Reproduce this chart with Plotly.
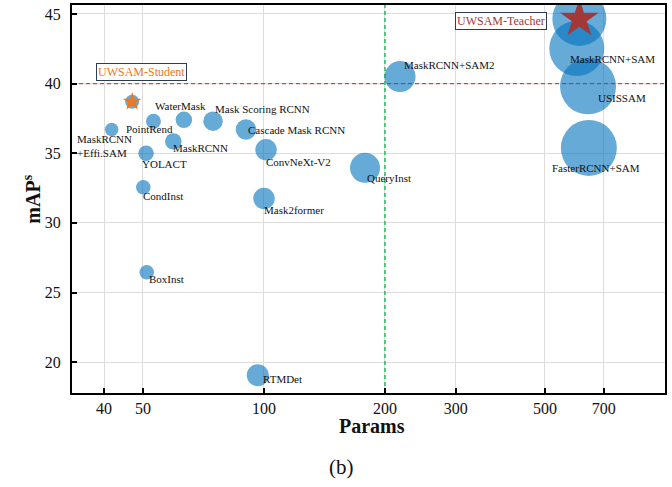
import numpy as np
import plotly.graph_objects as go

# ---- data ----
models = ["UWSAM-Student", "MaskRCNN<br>+Effi.SAM", "PointRend", "WaterMask", "Mask Scoring RCNN",
          "Cascade Mask RCNN", "MaskRCNN", "YOLACT", "CondInst", "ConvNeXt-V2", "Mask2former",
          "QueryInst", "BoxInst", "RTMDet", "MaskRCNN+SAM2", "UWSAM-Teacher", "MaskRCNN+SAM",
          "USISSAM", "FasterRCNN+SAM"]
params = [47, 41.8, 53.1, 63.2, 74.7, 90.2, 59.5, 50.9, 50.1, 101.2, 100, 178.4, 51.1, 96.5,
          218, 609, 600, 640, 643]
map_s = [38.7, 36.7, 37.3, 37.4, 37.3, 36.7, 35.85, 35.0, 32.55, 35.25, 31.75, 33.95, 26.45, 19.07,
         40.5, 44.64, 42.52, 39.8, 35.38]
bubble = [14, 13.5, 15, 16.5, 19.5, 20.5, 16.5, 15.5, 14.5, 21.5, 21.5, 30, 14.5, 22,
          31, 54, 55, 56, 56]
x_ticks = [40, 50, 100, 200, 300, 500, 700]
y_ticks = [20, 25, 30, 35, 40, 45]
x_range = [33.3, 994.6]
y_range = [17.79, 45.64]
ref_map = 40
ref_params = 200

# label offsets in pixels (dx, dy down-positive) – style only
label_off = {
    "MaskRCNN<br>+Effi.SAM": (-36, 16),
    "PointRend": (-28, 8),
    "WaterMask": (-30, -14),
    "Mask Scoring RCNN": (1, -12),
    "Cascade Mask RCNN": (1, 0),
    "MaskRCNN": (-1, 7),
    "YOLACT": (-5, 11),
    "CondInst": (-1, 9),
    "ConvNeXt-V2": (-1, 12),
    "Mask2former": (-1, 11),
    "QueryInst": (1, 10),
    "BoxInst": (1, 7),
    "RTMDet": (4, 4),
    "MaskRCNN+SAM2": (3, -12),
    "MaskRCNN+SAM": (-8, 11),
    "USISSAM": (9, 12),
    "FasterRCNN+SAM": (-38, 20),
}

FONT = "Liberation Serif"
fig = go.Figure()

# reference lines (drawn under the bubbles)
fig.add_trace(go.Scatter(
    x=x_range, y=[ref_map, ref_map], mode="lines",
    line=dict(color="#C84A4A", width=1.3, dash="4px,3px"),
    hoverinfo="skip", showlegend=False))
fig.add_trace(go.Scatter(
    x=[ref_params, ref_params], y=y_range, mode="lines",
    line=dict(color="#11BB55", width=1.4, dash="4px,3px"),
    hoverinfo="skip", showlegend=False))

fig.add_trace(go.Scatter(
    x=params, y=map_s, mode="markers",
    marker=dict(size=bubble, sizemode="diameter", color="#0072BD", opacity=0.6,
                line=dict(width=0)),
    hoverinfo="text", text=models, showlegend=False))

# stars
fig.add_trace(go.Scatter(
    x=[params[0]], y=[map_s[0]], mode="markers",
    marker=dict(symbol="star", size=14, color="#EE7722", line=dict(width=0)),
    showlegend=False))
fig.add_trace(go.Scatter(
    x=[params[15]], y=[map_s[15]], mode="markers",
    marker=dict(symbol="star", size=29, color="#A33838", line=dict(width=0)),
    showlegend=False))

annotations = []
for m, xv, yv in zip(models, params, map_s):
    if m in label_off:
        dx, dy = label_off[m]
        annotations.append(dict(
            x=np.log10(xv), y=yv, xref="x", yref="y", text=m, showarrow=False,
            xanchor="left", yanchor="middle", align="left", xshift=dx, yshift=-dy,
            font=dict(family=FONT, size=11, color="#111"), borderpad=0))

annotations.append(dict(
    x=np.log10(params[0]), y=map_s[0], xref="x", yref="y", text="UWSAM-Student",
    showarrow=False, xanchor="center", yanchor="middle", xshift=9, yshift=30,
    font=dict(family=FONT, size=12, color="#EE7722"),
    bordercolor="#2E3B55", borderwidth=1, borderpad=1, bgcolor="white"))
annotations.append(dict(
    x=np.log10(params[15]), y=map_s[15], xref="x", yref="y", text="UWSAM-Teacher",
    showarrow=False, xanchor="center", yanchor="middle", xshift=-78, yshift=-2,
    font=dict(family=FONT, size=12, color="#A33838"),
    bordercolor="#2E3B55", borderwidth=1, borderpad=1, bgcolor="white"))

annotations.append(dict(
    x=-0.068, y=0.5, xref="paper", yref="paper", text="<b>mAP<sup>s</sup></b>",
    textangle=-90, showarrow=False, xanchor="center", yanchor="middle",
    font=dict(family=FONT, size=20, color="#111")))
annotations.append(dict(
    x=0.506, y=-0.086, xref="paper", yref="paper", text="<b>Params</b>",
    showarrow=False, xanchor="center", yanchor="middle",
    font=dict(family=FONT, size=20, color="#111")))
annotations.append(dict(
    x=0.455, y=-0.19, xref="paper", yref="paper", text="(b)",
    showarrow=False, xanchor="center", yanchor="middle",
    font=dict(family=FONT, size=21, color="#111")))

fig.update_layout(
    width=672, height=487,
    margin=dict(l=72, r=7, t=3, b=94),
    paper_bgcolor="white", plot_bgcolor="white",
    annotations=annotations,
    font=dict(family=FONT, color="#111"),
    xaxis=dict(type="log", range=[np.log10(x_range[0]), np.log10(x_range[1])],
               tickvals=x_ticks, ticktext=[str(v) for v in x_ticks],
               showgrid=True, gridcolor="#DDDDDD", gridwidth=1,
               showline=True, linecolor="black", linewidth=2, mirror=True,
               ticks="inside", ticklen=5, tickwidth=1.5, tickcolor="black",
               tickfont=dict(family=FONT, size=16, color="#111"), zeroline=False),
    yaxis=dict(range=y_range, tickvals=y_ticks,
               showgrid=True, gridcolor="#DDDDDD", gridwidth=1,
               showline=True, linecolor="black", linewidth=2, mirror=True,
               ticks="inside", ticklen=5, tickwidth=1.5, tickcolor="black",
               ticklabelstandoff=6,
               tickfont=dict(family=FONT, size=16, color="#111"), zeroline=False),
)

fig.write_html("out.html", config={"displayModeBar": False},
               post_script="document.body.style.margin='0';document.body.style.overflow='hidden';")
